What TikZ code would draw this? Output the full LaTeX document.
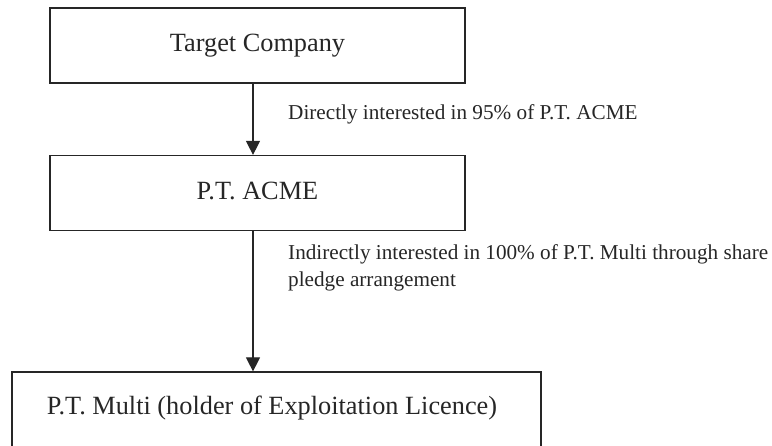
\documentclass[tikz,border=0pt]{standalone}
\usepackage{fontspec}
\setmainfont{Liberation Serif}
\usetikzlibrary{arrows.meta}
\begin{document}
\begin{tikzpicture}[x=1pt,y=-1pt,
  box/.style={draw=black!85, line width=1.2pt, minimum width=415pt, minimum height=75pt,
    inner sep=0pt, text height=17pt, text depth=4pt,
    font=\fontsize{26.3}{30}\selectfont, text=black!85},
  boxtext/.style={anchor=base, inner sep=0pt, font=\fontsize{26.3}{30}\selectfont, text=black!85},
  link/.style={draw=black!85, line width=1.2pt, -{Triangle[width=14pt,length=14pt]}},
  note/.style={anchor=base west, inner sep=0pt, align=left,
    font=\fontsize{21.2}{26.7}\selectfont, text=black!85}]
\useasboundingbox (0,0) rectangle (772,446);
\clip (0,0) rectangle (772,446);

% ownership chain
\node[box] (target) at (257.5,45.5) {Target Company};
\node[box] (acme) at (257.5,193) {P.T. ACME};
\node[box, minimum width=529pt, minimum height=100pt] (multibox) at (276.5,422) {};
\node[boxtext] (multi) at (272,415) {P.T. Multi (holder of Exploitation Licence)};

% interest links
\draw[link] ([xshift=-4.5pt]target.south) -- ([xshift=-4.5pt]acme.north);
\draw[link] ([xshift=-4.5pt]acme.south) -- (multibox.north -| 253,0);

% link descriptions
\node[note] (direct) at (288,120) {Directly interested in 95\% of P.T. ACME};
\node[note] (indirect) at (288,286.7) {Indirectly interested in 100\% of P.T. Multi through share\\pledge arrangement};
\end{tikzpicture}
\end{document}
